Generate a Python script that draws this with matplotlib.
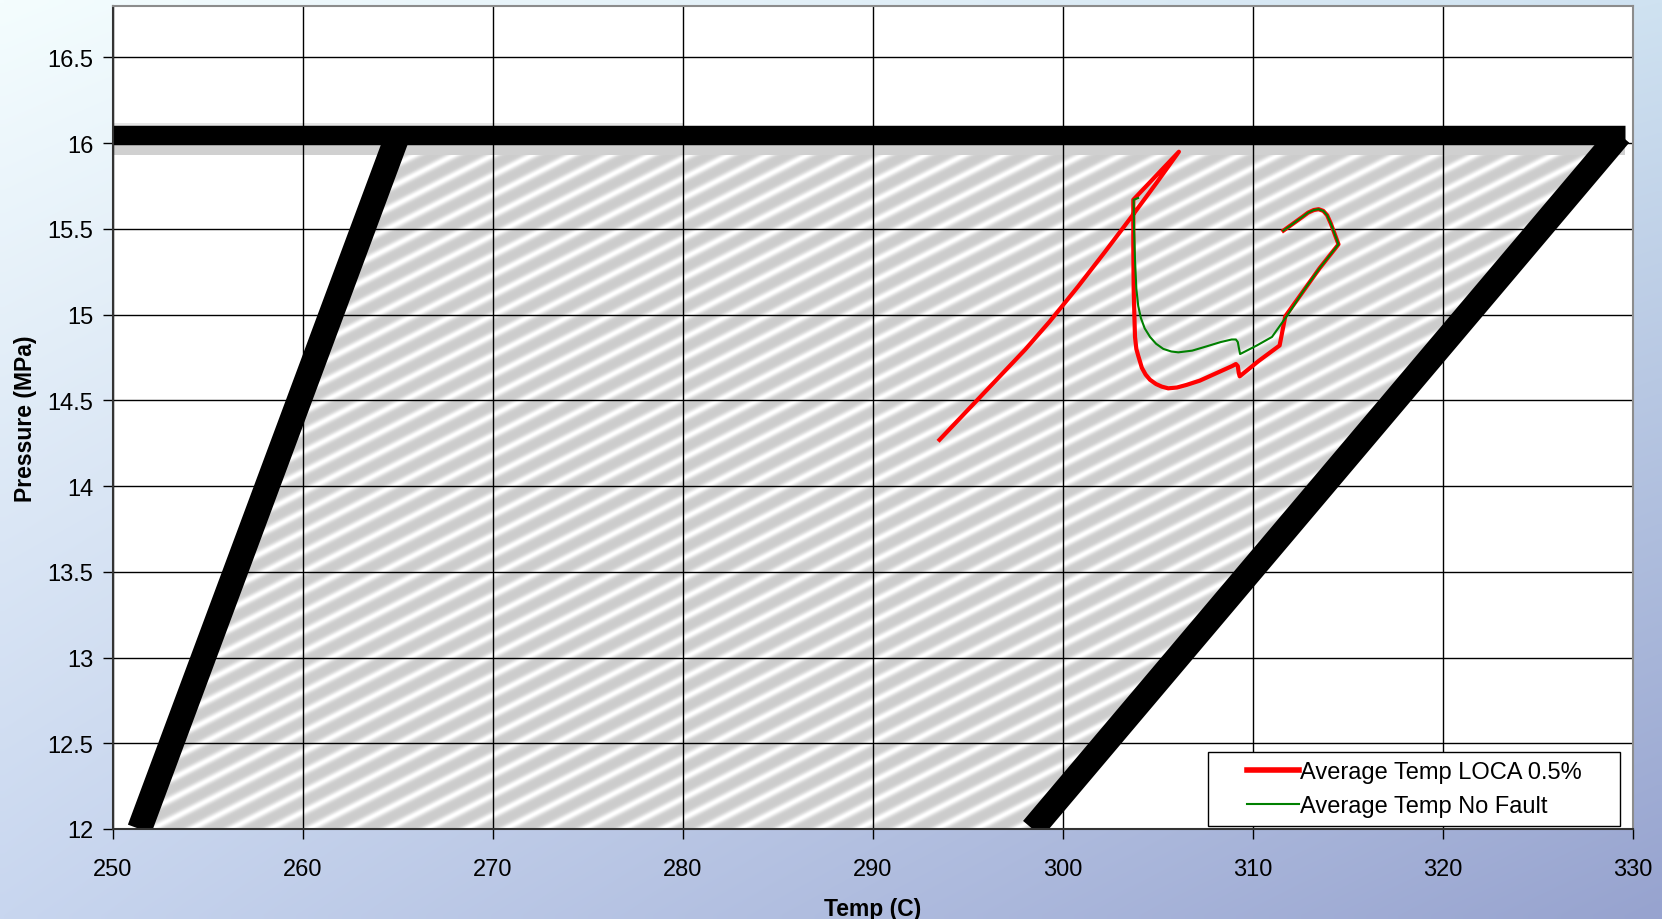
import numpy as np
import matplotlib
matplotlib.use("Agg")
import matplotlib.pyplot as plt
from matplotlib.patches import Polygon, Rectangle

plt.rcParams['font.family'] = ['Liberation Sans', 'DejaVu Sans']

# operating envelope (temperature C, pressure MPa)
env_left_t = [251.4, 265.0]
env_left_p = [12.0, 16.05]
env_top_t = [250.0, 329.6]
env_top_p = [16.05, 16.05]
env_right_t = [298.4, 329.3]
env_right_p = [12.0, 16.05]

# Average Temp LOCA 0.5%
loca_t = [293.5, 295.0, 296.5, 298.0, 299.3, 300.8, 302.2, 303.6, 304.9, 306.1,
          303.70, 303.70, 303.72, 303.76, 303.79, 303.86, 303.96, 304.15, 304.35, 304.58,
          304.9, 305.2, 305.54, 306.0, 306.5, 307.2, 308.1, 308.6, 308.9, 309.1,
          309.2, 309.25, 309.3, 310.3, 311.4, 311.7, 312.6, 313.5, 314.5, 314.3,
          314.1, 313.9, 313.7, 313.45, 313.2, 312.9, 312.6, 312.1, 311.6]
loca_p = [14.27, 14.445, 14.62, 14.795, 14.96, 15.165, 15.365, 15.57, 15.765, 15.95,
          15.67, 15.4, 15.15, 14.98, 14.87, 14.80, 14.76, 14.69, 14.65, 14.62,
          14.595, 14.58, 14.57, 14.575, 14.59, 14.615, 14.66, 14.685, 14.70, 14.712,
          14.70, 14.66, 14.64, 14.73, 14.82, 14.99, 15.13, 15.27, 15.41, 15.47,
          15.53, 15.58, 15.605, 15.615, 15.61, 15.595, 15.57, 15.53, 15.49]

# Average Temp No Fault
nofault_t = [303.95, 303.72, 303.74, 303.79, 303.86, 303.96, 304.1, 304.3, 304.58, 304.9,
             305.28, 305.7, 306.07, 306.8, 307.56, 308.3, 308.88, 309.1, 309.2, 309.25,
             309.32, 310.2, 311.0, 311.77, 312.6, 313.5, 314.5, 314.3, 314.1, 313.9,
             313.7, 313.45, 313.2, 312.9, 312.6, 312.1, 311.6]
nofault_p = [15.68, 15.67, 15.5, 15.32, 15.15, 15.05, 14.98, 14.92, 14.87, 14.83,
             14.80, 14.785, 14.78, 14.79, 14.815, 14.84, 14.855, 14.855, 14.84, 14.81,
             14.77, 14.82, 14.87, 14.99, 15.13, 15.27, 15.41, 15.47, 15.53, 15.58,
             15.605, 15.615, 15.61, 15.595, 15.57, 15.53, 15.49]

xticks = np.arange(250, 331, 10)
yticks = np.arange(12, 16.6, 0.5)
xlim = (250, 330)
ylim = (12, 16.8)

W, H = 1662, 920
fig = plt.figure(figsize=(W / 100, H / 100), dpi=100)

# slide style background
bg = fig.add_axes([0, 0, 1, 1])
u = np.linspace(0, 1, 200)[None, :, None]
v = np.linspace(0, 1, 120)[:, None, None]
tl = np.array([0xf4, 0xfd, 0xfe]) / 255
tr = np.array([0xcf, 0xe2, 0xf1]) / 255
bl = np.array([0xc8, 0xd6, 0xef]) / 255
br = np.array([0x97, 0xa3, 0xcf]) / 255
grad = (1 - u) * (1 - v) * tl + u * (1 - v) * tr + (1 - u) * v * bl + u * v * br
bg.imshow(grad, aspect='auto', extent=(0, 1, 0, 1), interpolation='bilinear')
bg.axis('off')

ax = fig.add_axes([113 / W, 90 / H, 1520 / W, 823 / H])
ax.set_facecolor('white')
ax.set_xlim(xlim)
ax.set_ylim(ylim)

# striped texture inside the envelope
nx, ny = 1520, 823
xx, yy = np.meshgrid(np.arange(nx), np.arange(ny)[::-1])
phase = (yy - xx * np.tan(np.radians(27))) / 20.0
grey = 0.80 + 0.20 * (0.5 + 0.5 * np.cos(2 * np.pi * phase)) ** 2.5
im = ax.imshow(grey, cmap='gray', vmin=0, vmax=1, extent=(*xlim, *ylim),
               aspect='auto', interpolation='nearest', zorder=1)
inner = Polygon([(env_left_t[0], env_left_p[0]), (env_left_t[1], env_left_p[1] - 0.1),
                 (env_right_t[1], env_right_p[1] - 0.1), (env_right_t[0], env_right_p[0])],
                closed=True, transform=ax.transData)
im.set_clip_path(inner)

# grey shadow under the top limit
ax.fill_between(env_top_t, [p - 0.12 for p in env_top_p], env_top_p,
                color='#d0d0d0', lw=0, zorder=1.5)
ax.fill_between([env_top_t[0], 280], [env_top_p[0]] * 2, [env_top_p[0] + 0.07] * 2,
                color='#e6e6e6', lw=0, zorder=1.5)

ax.set_xticks(xticks)
ax.set_yticks(yticks)
ax.set_yticklabels(['%g' % t for t in yticks])
ax.grid(True, color='black', lw=1.0, zorder=2)
ax.set_axisbelow(False)

ax.plot(env_left_t, env_left_p, color='black', lw=18, solid_capstyle='butt', zorder=3)
ax.plot(env_right_t, env_right_p, color='black', lw=18, solid_capstyle='butt', zorder=3)
ax.plot(env_top_t, env_top_p, color='black', lw=14, solid_capstyle='butt', zorder=3)

ax.plot(loca_t, loca_p, color='#ff0000', lw=3.0, zorder=4,
        solid_joinstyle='round', label='Average Temp LOCA 0.5%')
ax.plot(nofault_t, nofault_p, color='#008000', lw=1.5, zorder=5,
        solid_joinstyle='round', label='Average Temp No Fault')

ax.tick_params(axis='both', labelsize=17, length=7, width=1, direction='out')
ax.tick_params(axis='x', pad=14)
ax.tick_params(axis='y', pad=7)
for side in ['top', 'right']:
    ax.spines[side].set_color('#8c8c8c')
    ax.spines[side].set_linewidth(1.5)
for side in ['left', 'bottom']:
    ax.spines[side].set_color('#333333')
    ax.spines[side].set_linewidth(1.5)
for s in ax.spines.values():
    s.set_zorder(6)

ax.set_xlabel('Temp (C)', fontsize=16.5, fontweight='bold')
ax.set_ylabel('Pressure (MPa)', fontsize=16.5, fontweight='bold')
ax.xaxis.set_label_coords(0.5, -0.083)
ax.yaxis.set_label_coords(-0.050, 0.5)

# legend box
x0, x1 = (1208 - 113) / 1520, (1620 - 113) / 1520
y0, y1 = 3 / 823, 77 / 823
ax.add_patch(Rectangle((x0, y0), x1 - x0, y1 - y0, transform=ax.transAxes,
                       facecolor='white', edgecolor='black', lw=1.0, zorder=7))
leg = ax.legend(loc='center', bbox_to_anchor=((x0 + x1) / 2, (y0 + y1) / 2),
                frameon=False, fontsize=17, handlelength=2.2, handletextpad=0.05,
                labelspacing=0.5, borderpad=0.2)
leg.set_zorder(8)
leg.get_lines()[0].set_linewidth(4)

fig.savefig('out.png', dpi=100)
